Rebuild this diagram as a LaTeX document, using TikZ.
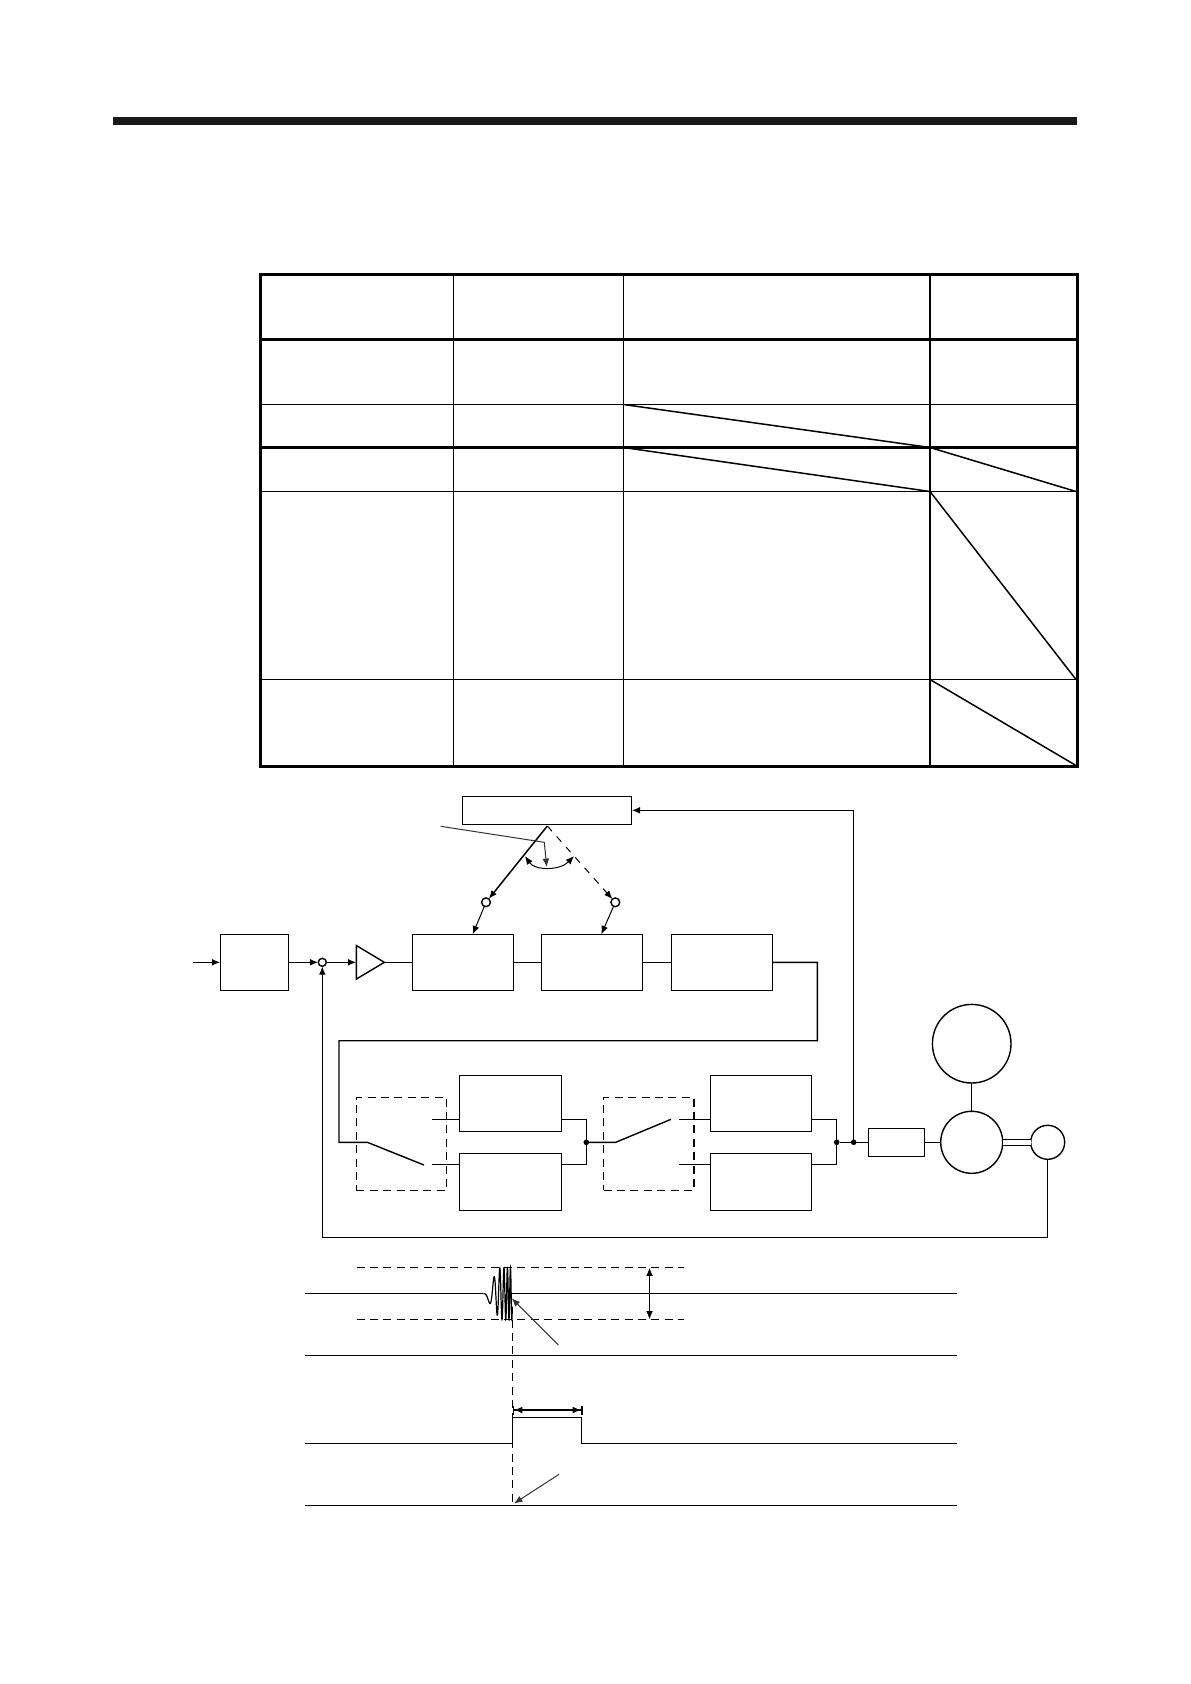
\documentclass[tikz,border=0pt]{standalone}
\usepackage{amsmath,amssymb}
\usetikzlibrary{arrows.meta,positioning,calc,shapes.geometric}
\definecolor{LeadGray}{HTML}{333333}
\tikzset{
  wire/.style={line width=0.7pt, draw=black},
  sig/.style={wire, -{Latex[length=4.2pt,width=3.4pt]}},
  lead/.style={-{Latex[length=4.2pt,width=3.4pt]}, line width=0.5pt, draw=LeadGray},
  span/.style={wire, {Latex[length=4.2pt,width=3.4pt]}-{Latex[length=4.2pt,width=3.4pt]}},
  hold/.style={wire, {Bar[width=4.5pt]Latex[length=4.2pt,width=3.4pt]}-{Latex[length=4.2pt,width=3.4pt]Bar[width=4.5pt]}},
  dashwire/.style={line width=0.7pt, draw=black, dash pattern=on 4pt off 2.7pt},
  block/.style={draw=black, fill=white, line width=0.7pt, inner sep=0pt, outer sep=0pt,
                minimum width=50.5pt, minimum height=28pt},
  dashbox/.style={dashwire, inner sep=0pt, outer sep=0pt, minimum width=45.2pt, minimum height=46.5pt},
  port/.style={circle, draw=black, fill=white, line width=0.7pt, inner sep=0pt, outer sep=0pt, minimum size=4.4pt},
  dotnode/.style={circle, fill=black, inner sep=0pt, outer sep=0pt, minimum size=2.8pt},
  round/.style={circle, draw=black, fill=white, line width=0.7pt, inner sep=0pt, outer sep=0pt},
  tblthin/.style={line width=0.75pt, draw=black},
  tblmid/.style={line width=1.1pt, draw=black},
  tblheavy/.style={line width=1.7pt, draw=black},
}
\begin{document}
\begin{tikzpicture}[x=0.5pt,y=-0.5pt]
    \useasboundingbox (0,0) rectangle (1190,1684);
    \fill[black!90] (113,117) rectangle (1077,125.5);
    \draw[tblheavy] (260.5,274.5) rectangle (1077.5,766.5);
    \draw[tblheavy] (260.5,339.5) -- (1077.5,339.5);
    \draw[tblheavy] (260.5,447.5) -- (1077.5,447.5);
    \foreach \rowy in {404.5,491.5,679.5}
      \draw[tblthin] (260.5,\rowy) -- (1077.5,\rowy);
    \draw[tblthin] (453.5,274.5) -- (453.5,766.5);
    \draw[tblthin] (623.5,274.5) -- (623.5,766.5);
    \draw[tblmid] (930,274.5) -- (930,766.5);
    \draw[tblthin] (623.5,404.5) -- (930,447.5);
    \draw[tblthin] (623.5,447.5) -- (930,491.5);
    \draw[tblthin] (930,447.5) -- (1076,491.5);
    \draw[tblthin] (930,491.5) -- (1076,679.5);
    \draw[tblthin] (930,679.5) -- (1076,765.5);

    \node[block,minimum width=34.2pt] (blkD) at (254.5,962.3) {};
    \node[port,minimum size=4pt,right=14.8pt of blkD] (sum) {};
    \node[isosceles triangle,isosceles triangle stretches,draw=black,line width=0.7pt,inner sep=0pt,outer sep=0pt,
          minimum width=16.8pt,minimum height=14pt,right=15pt of sum] (amp) {};
    \node[block,right=14pt of amp.apex] (blkA) {};
    \node[block,right=14pt of blkA] (blkB) {};
    \node[block,right=14.5pt of blkB] (blkC) {};
    \node[block,minimum width=84.7pt,minimum height=14pt] (ctrl) at (547,810.3) {};
    \node[port] (contL) at (486,902.3) {};
    \node[port] (contR) at (615.3,902.3) {};
    \coordinate (inp) at (192.7,962.3);
    \coordinate (apex) at (547.3,826);
    \coordinate (tipA) at (472.7,934.3);
    \coordinate (tipB) at (601.3,934.3);
    \coordinate (kneeL) at (544.3,842.3);
    \coordinate (noteL) at (440.7,826.3);
    \coordinate (noteT) at (546.7,867);
    \coordinate (arcL) at (525,856);
    \coordinate (arcR) at (574,856);

    \draw[sig] (inp) -- (blkD);
    \draw[sig] (blkD) -- (sum);
    \draw[sig] (sum) -- (sum -| amp.left corner);
    \draw[wire] (amp.apex) -- (blkA);
    \draw[wire] (blkA) -- (blkB);
    \draw[wire] (blkB) -- (blkC);
    \draw[sig,line width=0.75pt] (apex) -- (contL);
    \draw[sig,dash pattern=on 3.5pt off 3.5pt,line width=0.5pt] (apex) -- (contR);
    \draw[sig,line width=0.5pt] (contL) -- (tipA);
    \draw[sig,line width=0.5pt] (contR) -- (tipB);
    \draw[lead] (noteL) -- (kneeL) -- (noteT);
    \draw[span,line width=0.5pt] (arcL) .. controls (535,870.7) and (560,870.7) .. (arcR);

    \node[dashbox] (swA) at (401.5,1143.8) {};
    \node[dashbox] (swB) at (648.7,1143.8) {};
    \node[block,minimum width=51.2pt] (blkE) at (510.5,1103.3) {};
    \node[block,minimum width=51.2pt,below=11pt of blkE,minimum height=28.5pt] (blkF) {};
    \node[block,minimum width=50.7pt] (blkG) at (761,1103.3) {};
    \node[block,minimum width=50.7pt,below=11pt of blkG,minimum height=28.5pt] (blkH) {};
    \node[dotnode] (dotA) at (586.3,1142.3) {};
    \node[dotnode] (dotB) at (836.7,1142.3) {};
    \node[dotnode] (dotC) at (853.7,1142.3) {};
    \node[block,minimum width=28.2pt,minimum height=14pt] (blkI) at (896.5,1142.3) {};
    \node[round,minimum size=31pt] (motor) at (971.7,1142.3) {};
    \node[round,minimum size=39.3pt] (load) at (971.7,1043.7) {};
    \node[round,minimum size=17pt] (enc) at (1047.7,1142.3) {};

    \coordinate (turnA) at (817.3,1040.7);
    \coordinate (turnB) at (339,1142.3);
    \coordinate (pivA) at (367.3,1142.3);
    \coordinate (armA) at (424,1165);
    \coordinate (termE) at (431.7,1119.3);
    \coordinate (termF) at (431.7,1164.3);
    \coordinate (pivB) at (615.7,1142.3);
    \coordinate (armB) at (671,1119.3);
    \coordinate (termG) at (679,1119.3);
    \coordinate (termH) at (679,1164.3);
    \coordinate (fbk) at (322.3,1237.3);

    \draw[wire] (blkC) -| (turnA) -| (turnB) -- (pivA) -- (armA);
    \draw[wire] (termE) -- (termE -| blkE.west);
    \draw[wire] (termF) -- (termF -| blkF.west);
    \draw[wire] (termE -| blkE.east) -| (dotA);
    \draw[wire] (termF -| blkF.east) -| (dotA);
    \draw[wire] (dotA) -- (pivB) -- (armB);
    \draw[wire] (termG) -- (termG -| blkG.west);
    \draw[wire] (termH) -- (termH -| blkH.west);
    \draw[wire] (termG -| blkG.east) -| (dotB);
    \draw[wire] (termH -| blkH.east) -| (dotB);
    \draw[wire] (dotB) -- (blkI);
    \draw[wire] (blkI) -- (motor);
    \draw[wire] (motor) -- (load);
    \draw[wire,double,double distance=2.2pt] (motor) -- (enc);
    \draw[sig] (dotC) |- (ctrl);
    \draw[sig] (enc.south) |- (fbk) -- (sum);

    \draw[wire] (305,1293.5) -- (483.3,1293.5);
    \draw[line width=0.6pt] plot[domain=0.002:1,samples=300] ({483.3+29*\x},{1293.5+min(26,45*\x)*sin(1950*\x*\x)});
    \draw[wire] (512.3,1293.5) -- (957,1293.5);
    \draw[dashwire] (356.5,1267.5) -- (684,1267.5);
    \draw[dashwire] (356.5,1319.5) -- (684,1319.5);
    \draw[wire] (305,1355.5) -- (957,1355.5);
    \draw[wire] (305,1443.5) -- (512.5,1443.5) -- (512.5,1417.5) -- (581.5,1417.5) -- (581.5,1443.5) -- (957,1443.5);
    \draw[wire] (305,1505.5) -- (957,1505.5);
    \draw[dashwire] (512.5,1319.5) -- (512.5,1505.5);
    \coordinate (wdthT) at (649.5,1267.5);
    \coordinate (wdthB) at (649.5,1319.5);
    \coordinate (holdL) at (512.5,1410);
    \coordinate (holdR) at (582.5,1410);
    \draw[span] (wdthT) -- (wdthB);
    \draw[hold] (holdL) -- (holdR);
    \coordinate (noteS) at (558.3,1345);
    \coordinate (hitS) at (511.7,1298.3);
    \coordinate (noteD) at (559,1474.3);
    \coordinate (hitD) at (514,1503.5);
    \draw[lead] (noteS) -- (hitS);
    \draw[lead] (noteD) -- (hitD);
\end{tikzpicture}
\end{document}
